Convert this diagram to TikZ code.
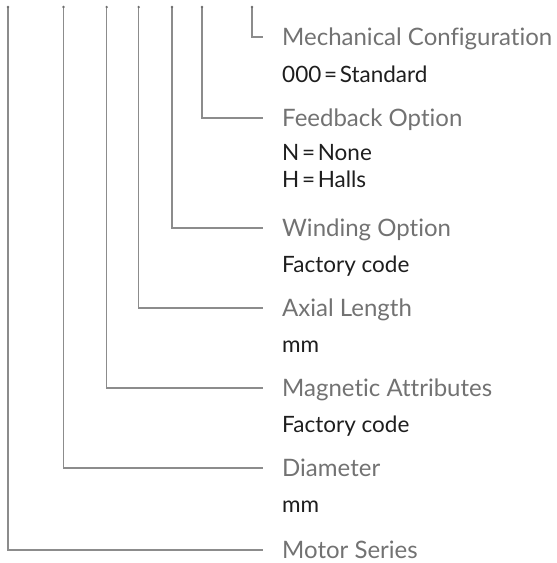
\documentclass[tikz,border=0pt]{standalone}
\usepackage{fontspec}
\setmainfont{Lato}[Ligatures=NoCommon]
\definecolor{linegray}{HTML}{8C8C8C}
\definecolor{dotgray}{HTML}{6E6E6E}
\definecolor{headgray}{HTML}{727272}
\definecolor{subblack}{HTML}{1E1E1E}
\newcommand{\eqsp}{\hspace{0.12em}=\hspace{0.12em}}
\tikzset{
  conn/.style={draw=linegray, line width=1.1pt},
  topdot/.style={circle, fill=dotgray, inner sep=0pt, minimum size=2.6pt},
  head/.style={anchor=base west, inner sep=0pt, text=headgray, font=\fontsize{24}{28}\selectfont},
  sub/.style={anchor=base west, inner sep=0pt, text=subblack, font=\fontsize{22.5}{26}\selectfont}
}
\begin{document}
\begin{tikzpicture}[x=1pt,y=-1pt]
\useasboundingbox (0,0) rectangle (557,563);
% column positions and heading heights
\foreach \n/\x/\y in {1/8/550, 2/63.5/468, 3/106.7/388, 4/138.7/308, 5/172/228, 6/202/118, 7/252/37}{
  \coordinate (t\n) at (\x,7);
  \coordinate (c\n) at (\x,\y);
  \coordinate (e\n) at (263,\y);
  \draw[conn] (t\n) -- (c\n) -- (e\n);
  \node[topdot] (d\n) at (t\n) {};
}
% headings
\node[head] (h1) at (282,558) {Motor Series};
\node[head] (h2) at (282,476) {Diameter};
\node[head] (h3) at (282,396) {Magnetic Attributes};
\node[head] (h4) at (282,316) {Axial Length};
\node[head] (h5) at (282,236) {Winding Option};
\node[head] (h6) at (282,126) {Feedback Option};
\node[head] (h7) at (282,45) {Mechanical Configuration};
% sub lines
\node[sub] (s2) at (282,512) {mm};
\node[sub] (s3) at (282,432) {Factory code};
\node[sub] (s4) at (282,352) {mm};
\node[sub] (s5) at (282,272) {Factory code};
\node[sub] (s6a) at (282,160) {N\eqsp None};
\node[sub] (s6b) at (282,187) {H\eqsp Halls};
\node[sub] (s7) at (282,82) {000\eqsp Standard};
\end{tikzpicture}
\end{document}
